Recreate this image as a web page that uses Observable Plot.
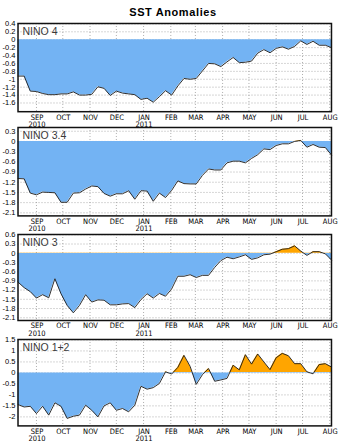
<!DOCTYPE html>
<html><head><meta charset="utf-8">
<script src="https://cdn.jsdelivr.net/npm/d3@7"></script>
<script src="https://cdn.jsdelivr.net/npm/@observablehq/plot@0.6"></script>
<style>
body{margin:0;background:#fff;}
#c{position:relative;width:344px;height:446px;overflow:hidden;background:#fff;}
#title{position:absolute;left:0;top:6px;width:346px;text-align:center;font:bold 11px "Liberation Sans",Arial,sans-serif;line-height:13px;letter-spacing:0.6px;color:#000;}
#c svg{position:absolute;left:0;}
</style></head><body>
<div id="c"><div id="title">SST Anomalies</div></div>
<script>
// ---- data ----
const startDate = "2010-08-11"; // first weekly value (weeks centred on Wednesday)
const endDate = "2011-08-03";   // last weekly value
const nWeeks = 52;

const nino4  = [-0.92,-0.92,-1.30,-1.31,-1.36,-1.39,-1.39,-1.37,-1.37,-1.32,-1.40,-1.40,-1.38,-1.19,-1.23,-1.41,-1.30,-1.35,-1.37,-1.39,-1.51,-1.48,-1.58,-1.44,-1.29,-1.40,-1.17,-0.98,-1.00,-0.98,-0.79,-0.60,-0.61,-0.68,-0.56,-0.45,-0.58,-0.57,-0.54,-0.34,-0.25,-0.33,-0.22,-0.18,-0.24,-0.17,-0.03,-0.12,-0.04,-0.14,-0.14,-0.20];
const nino34 = [-1.09,-1.10,-1.52,-1.57,-1.49,-1.50,-1.51,-1.79,-1.79,-1.52,-1.51,-1.40,-1.31,-1.33,-1.53,-1.61,-1.54,-1.54,-1.45,-1.70,-1.45,-1.46,-1.76,-1.52,-1.65,-1.44,-1.16,-1.24,-1.25,-1.25,-1.00,-0.81,-0.84,-0.84,-0.63,-0.58,-0.58,-0.63,-0.50,-0.39,-0.22,-0.24,-0.12,-0.07,-0.07,0.00,0.03,-0.17,-0.09,-0.17,-0.18,-0.40];
const nino3  = [-0.94,-1.12,-1.25,-1.46,-1.35,-1.45,-0.83,-1.32,-1.70,-1.94,-1.70,-1.35,-1.59,-1.52,-1.53,-1.68,-1.68,-1.65,-1.64,-1.77,-1.51,-1.32,-1.46,-1.31,-1.40,-1.16,-0.75,-0.75,-0.70,-0.79,-0.72,-0.72,-0.46,-0.24,-0.13,-0.18,-0.12,-0.05,-0.20,-0.15,-0.05,-0.03,0.05,0.13,0.15,0.24,0.07,-0.07,0.05,0.05,-0.02,-0.22];
const nino12 = [-1.44,-1.55,-1.52,-1.85,-1.52,-1.92,-1.36,-1.52,-2.07,-1.97,-1.92,-1.47,-1.70,-2.00,-1.50,-1.36,-1.70,-1.62,-1.77,-1.47,-0.61,-0.74,-0.67,-0.48,0.05,-0.05,0.25,0.80,0.30,-0.52,-0.08,0.20,-0.38,-0.32,-0.25,0.35,0.14,0.83,0.40,0.86,0.50,0.15,0.69,0.89,0.78,0.42,0.42,0.05,-0.04,0.38,0.42,0.27];

const panelNames = ["NINO 4", "NINO 3.4", "NINO 3", "NINO 1+2"];

const monthTicks  = ["2010-09-01","2010-10-01","2010-11-01","2010-12-01","2011-01-01","2011-02-01","2011-03-01","2011-04-01","2011-05-01","2011-06-01","2011-07-01","2011-08-01"];
const monthLabels = ["SEP","OCT","NOV","DEC","JAN","FEB","MAR","APR","MAY","JUN","JUL","AUG"];
const yearTicks   = ["2010-09-01","2011-01-01"];
const yearLabels  = ["2010","2011"];

const yTicks4  = [0.4,0.2,0,-0.2,-0.4,-0.6,-0.8,-1,-1.2,-1.4,-1.6];
const yTicks34 = [0.3,0,-0.3,-0.6,-0.9,-1.2,-1.5,-1.8,-2.1];
const yTicks3  = [0.6,0.3,0,-0.3,-0.6,-0.9,-1.2,-1.5,-1.8,-2.1];
const yTicks12 = [1.5,1,0.5,0,-0.5,-1,-1.5,-2];

const yDomain4  = [-1.82, 0.41];
const yDomain34 = [-2.19, 0.41];
const yDomain3  = [-2.19, 0.61];
const yDomain12 = [-2.41, 1.52];

// ---- layout / style ----
const BLUE = "#73b3f3", ORANGE = "#ffa500";
const frames = [[22.5, 88.2], [127.3, 88.4], [234, 86], [339.3, 86.4]]; // frame top, frame height
const MT = 4, MB = 22, ML = 17.5, MR = 13;
const tickFont = "'Liberation Sans Narrow', 'DejaVu Sans Condensed', Arial, sans-serif";

const start = new Date(startDate + "T00:00Z");
const end = new Date(endDate + "T00:00Z");
const weeks = d3.range(nWeeks).map(i => d3.utcDay.offset(start, 7 * i));
const months = monthTicks.map(s => new Date(s + "T00:00Z"));
const years = yearTicks.map(s => new Date(s + "T00:00Z"));
const fmt = d => String(+(+d).toFixed(1));

const series = [nino4, nino34, nino3, nino12];
const ticksAll = [yTicks4, yTicks34, yTicks3, yTicks12];
const domains = [yDomain4, yDomain34, yDomain3, yDomain12];
const grid = {stroke: "#9a9a9a", strokeDasharray: "1,2", strokeWidth: 0.8};

const container = document.getElementById("c");
series.forEach((vals, k) => {
  const [ftop, fh] = frames[k];
  const H = MT + fh + MB;
  const data = weeks.map((d, i) => ({date: d, v: vals[i]}));
  const plot = Plot.plot({
    width: 344, height: H,
    marginTop: MT, marginBottom: MB, marginLeft: ML, marginRight: MR,
    style: {background: "transparent", fontFamily: "'Liberation Sans', Arial, sans-serif", fontSize: "7.5px", color: "#000", overflow: "visible"},
    x: {type: "utc", domain: [start, end], axis: null},
    y: {domain: domains[k], ticks: ticksAll[k], tickFormat: fmt, tickSize: 0, tickPadding: 2.5, label: null},
    marks: [
      Plot.ruleY(ticksAll[k], grid),
      Plot.ruleX(months, grid),
      Plot.areaY(data, {x: "date", y1: 0, y2: "v", fill: BLUE}),
      Plot.line(data, {x: "date", y: "v", stroke: "#1a1a1a", strokeWidth: 0.9}),
      Plot.frame({stroke: "#111", strokeWidth: 1.5}),
      Plot.text([panelNames[k]], {frameAnchor: "top-left", dx: 4.5, dy: 4, text: d => d, fontSize: 10.5, fill: "#3a3a3a", fontFamily: "'Liberation Sans', Arial, sans-serif", letterSpacing: 0.6}),
      Plot.text(months, {x: d => d, frameAnchor: "bottom", lineAnchor: "top", dy: 2.5, dx: 0.5,
        text: (d, i) => monthLabels[i], fontSize: 7.5, fill: "#000", fontFamily: tickFont}),
      Plot.text(years, {x: d => d, frameAnchor: "bottom", lineAnchor: "top", dy: 10, dx: 0.5,
        text: (d, i) => yearLabels[i], fontSize: 7.5, fill: "#000", fontFamily: tickFont})
    ]
  });
  // two-colour fill: orange above zero, blue below, split at the y-scale's zero
  const ys = plot.scale("y");
  const y0 = d3.scaleLinear(ys.domain, ys.range)(0);
  const id = "grad" + k;
  const defs = d3.select(plot).insert("defs", ":first-child");
  const lg = defs.append("linearGradient").attr("id", id).attr("gradientUnits", "userSpaceOnUse")
    .attr("x1", 0).attr("x2", 0).attr("y1", 0).attr("y2", H);
  lg.append("stop").attr("offset", y0 / H).attr("stop-color", ORANGE);
  lg.append("stop").attr("offset", y0 / H).attr("stop-color", BLUE);
  d3.select(plot).selectAll(`[fill="${BLUE}"]`).attr("fill", `url(#${id})`);
  plot.style.top = (ftop - MT) + "px";
  container.appendChild(plot);
});
</script>
</body></html>
